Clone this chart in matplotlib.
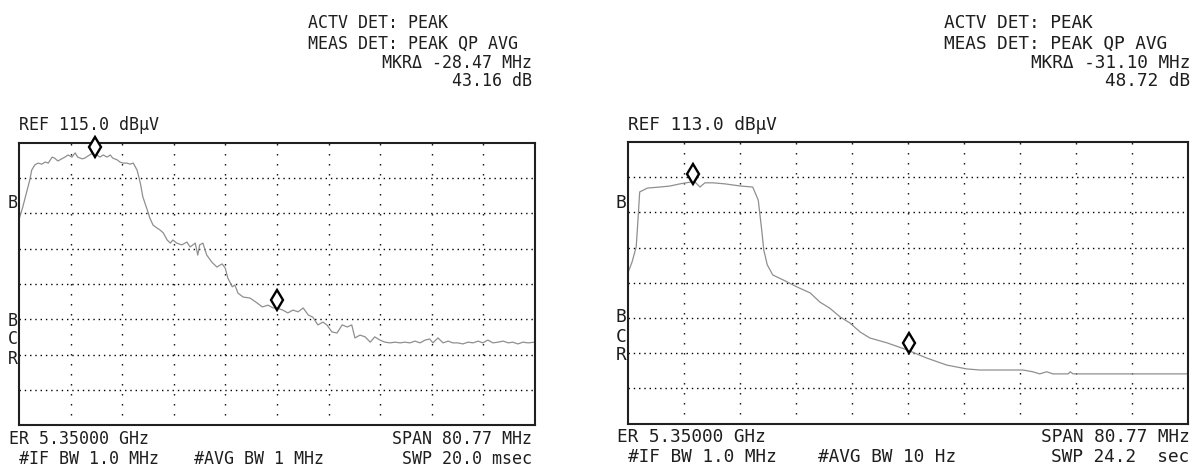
import matplotlib
matplotlib.use('Agg')
import matplotlib.pyplot as plt
from matplotlib.transforms import offset_copy

W, H = 1192, 476
span = 80.77  # MHz, both screens centred on 5.35 GHz

# left screen (REF 115 dBuV, 10 dB/div); frequency = offset from centre in MHz
left_f = [-40.4, -39.8, -39.1, -38.7, -38.4, -37.9, -37.4, -36.8, -36.3, -35.8,
          -35.2, -34.8, -34.3, -33.7, -33.2, -32.7, -32.1, -31.6, -31.2, -30.5,
          -30.1, -29.6, -28.8, -28.2, -27.7, -27.2, -26.6, -26.1, -25.7, -25.0,
          -24.6, -24.1, -23.5, -23.0, -22.5, -21.9, -21.4, -21.0, -20.3, -19.9,
          -19.4, -18.8, -18.3, -17.8, -17.2, -16.7, -16.3, -15.7, -14.9, -14.1,
          -13.6, -12.8, -12.4, -12.1, -11.6, -11.0, -10.2, -9.4, -8.6, -8.1,
          -7.7, -7.0, -6.6, -6.1, -5.3, -4.2, -3.1, -2.3, -1.4, -0.6,
          0.0, 0.9, 1.7, 2.5, 3.3, 4.1, 4.9, 5.6, 6.4, 7.2,
          7.8, 8.6, 9.4, 10.2, 11.0, 11.7, 12.2, 13.0, 13.8, 14.6,
          15.3, 16.1, 16.9, 17.7, 18.5, 19.3, 20.0, 20.8, 21.6, 22.4,
          23.2, 23.9, 24.4, 25.2, 26.0, 26.8, 27.5, 28.3, 29.1, 29.9,
          30.7, 31.5, 32.2, 33.0, 33.8, 34.6, 35.4, 36.2, 36.9, 37.7,
          38.5, 39.3, 40.4]
left_db = [93.2, 96.8, 101.7, 104.5, 107.3, 108.8, 109.3, 109.0, 109.6, 109.3,
           111.0, 110.7, 109.9, 110.5, 111.0, 111.6, 111.0, 112.2, 111.0, 110.5,
           110.7, 111.3, 112.2, 111.6, 111.0, 111.6, 111.0, 111.6, 110.7, 110.2,
           109.6, 109.3, 109.3, 109.0, 109.3, 107.3, 103.7, 99.7, 96.0, 93.7,
           91.7, 90.9, 90.3, 89.5, 87.5, 86.6, 87.5, 86.6, 86.1, 86.9,
           85.5, 86.6, 83.2, 86.1, 86.6, 83.2, 81.2, 79.8, 80.7, 79.5,
           76.7, 74.2, 74.7, 72.4, 71.3, 71.0, 69.6, 68.5, 69.0, 68.2,
           68.2, 67.6, 66.8, 67.6, 67.1, 68.2, 66.2, 65.6, 63.4, 64.2,
           63.4, 61.4, 61.1, 63.4, 62.8, 63.4, 59.7, 60.5, 60.0, 58.5,
           60.0, 59.1, 58.5, 58.3, 58.5, 58.3, 58.5, 58.3, 58.8, 58.3,
           59.1, 59.4, 58.3, 59.7, 58.3, 58.8, 58.3, 58.3, 58.0, 58.5,
           58.3, 58.8, 58.3, 59.1, 58.3, 58.5, 58.8, 58.3, 58.5, 58.0,
           58.5, 58.3, 58.5]
left_mk_f = [-28.5, 0.0]
left_mk_db = [111.6, 68.2]

# right screen (REF 113 dBuV, 10 dB/div)
right_f = [-40.4, -39.8, -39.2, -38.9, -38.7, -37.6, -35.8, -34.3, -32.9, -31.4,
           -30.7, -30.0, -29.3, -28.1, -26.4, -24.2, -22.4, -21.6, -21.1, -20.8,
           -20.3, -19.5, -18.0, -16.0, -14.1, -12.7, -11.3, -9.8, -8.4, -6.9,
           -5.5, -3.0, -0.1, 2.7, 5.6, 8.5, 10.4, 16.6, 18.0, 19.0,
           20.0, 20.9, 23.1, 23.4, 23.8, 40.4]
right_db = [75.8, 78.9, 83.2, 92.3, 98.8, 99.9, 100.2, 100.5, 101.1, 101.6,
            101.6, 100.2, 101.4, 101.4, 101.1, 100.5, 100.2, 96.5, 88.0, 82.3,
            78.1, 75.2, 73.8, 71.8, 70.1, 67.5, 65.8, 63.3, 61.6, 59.0,
            57.3, 55.9, 53.9, 51.6, 49.6, 48.5, 48.2, 48.2, 47.7, 47.1,
            47.7, 47.1, 47.1, 47.7, 47.1, 47.1]
right_mk_f = [-31.0, 0.1]
right_mk_db = [101.6, 53.6]

MONO = ['DejaVu Sans Mono', 'DejaVu Sans']

fig = plt.figure(figsize=(W / 100, H / 100), dpi=100)


def px(x, y):
    return x / W, 1 - y / H


def txt(x, y, s, ha='left', size=12):
    fx, fy = px(x, y + 5.5)
    fig.text(fx, fy, s, ha=ha, va='baseline', fontsize=size, family=MONO, color='#1e1e1e')


def screen(x0, y0, x1, y1, ref, f, db, mk_f, mk_db):
    l, b = px(x0, y1)
    ax = fig.add_axes([l, b, (x1 - x0) / W, (y1 - y0) / H])
    ax.set_xlim(-span / 2, span / 2)
    ax.set_ylim(ref - 80, ref)
    for k in range(1, 10):
        ax.axvline(-span / 2 + k * span / 10, color='black', lw=1.0, dashes=(1, 6.2))
    for k in range(1, 8):
        ax.axhline(ref - 10 * k, color='black', lw=1.0, dashes=(1, 2.8))
    ax.plot(f, db, color='#8f8f8f', lw=0.9)
    tr = offset_copy(ax.transData, fig=fig, y=5.5, units='points')
    ax.plot(mk_f, mk_db, transform=tr, ls='none', marker='d', ms=10.5,
            mfc='white', mec='black', mew=1.7, clip_on=False, zorder=5)
    ax.set_xticks([])
    ax.set_yticks([])
    for s in ax.spines.values():
        s.set_linewidth(1.5)
        s.set_color('#202020')
    return ax


screen(19, 143, 535, 425, 115.0, left_f, left_db, left_mk_f, left_mk_db)
screen(628, 142, 1188, 423.5, 113.0, right_f, right_db, right_mk_f, right_mk_db)

# left screen annotations
txt(308, 23, 'ACTV DET: PEAK')
txt(308, 43, 'MEAS DET: PEAK QP AVG')
txt(532, 62, 'MKRΔ -28.47 MHz', ha='right')
txt(532, 80, '43.16 dB', ha='right')
txt(19, 125, 'REF 115.0 dBµV')
txt(9, 438, 'ER 5.35000 GHz')
txt(19, 459, '#IF BW 1.0 MHz')
txt(194, 459, '#AVG BW 1 MHz')
txt(532, 438, 'SPAN 80.77 MHz', ha='right')
txt(532, 459, 'SWP 20.0 msec', ha='right')
for ch, yy in [('B', 202), ('B', 320), ('C', 339), ('R', 358)]:
    txt(13, yy, ch, ha='center')

# right screen annotations
rs = 12.8
txt(944, 23, 'ACTV DET: PEAK', size=rs)
txt(944, 43, 'MEAS DET: PEAK QP AVG', size=rs)
txt(1190, 62, 'MKRΔ -31.10 MHz', ha='right', size=rs)
txt(1190, 80, '48.72 dB', ha='right', size=rs)
txt(628, 125, 'REF 113.0 dBµV', size=rs)
txt(617, 437, 'ER 5.35000 GHz', size=rs)
txt(628, 457, '#IF BW 1.0 MHz', size=rs)
txt(818, 457, '#AVG BW 10 Hz', size=rs)
txt(1190, 437, 'SPAN 80.77 MHz', ha='right', size=rs)
txt(1189, 457, 'SWP 24.2  sec', ha='right', size=rs)
for ch, yy in [('B', 202), ('B', 317), ('C', 337), ('R', 355)]:
    txt(621, yy, ch, ha='center', size=rs)

fig.savefig('out.png', dpi=100)
